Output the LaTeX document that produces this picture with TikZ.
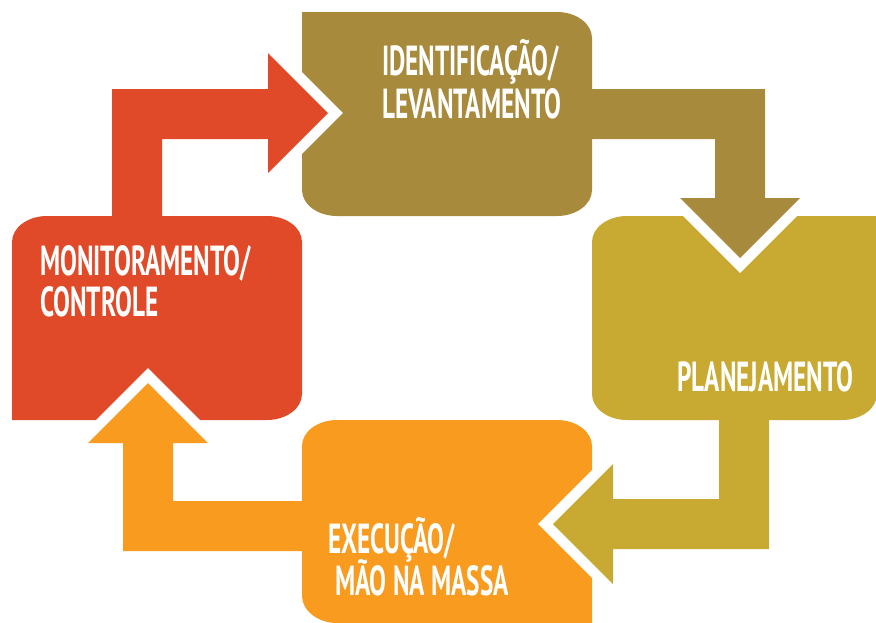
\documentclass[tikz,border=0pt]{standalone}
\usepackage{fontspec}
\newfontfamily\lbl{PT Sans}[FakeStretch=0.6]
\definecolor{identc}{HTML}{A88A3D}
\definecolor{monc}{HTML}{E04A28}
\definecolor{planc}{HTML}{C8AA32}
\definecolor{execc}{HTML}{F89B1F}
\tikzset{
  lbltext/.style={anchor=base west, inner sep=0pt, text=white, font=\lbl\bfseries\fontsize{42}{46}\selectfont},
  headrim/.style={draw=white, line width=21.2pt, line join=miter, miter limit=10},
}
\begin{document}
\begin{tikzpicture}[x=1pt,y=-1pt]
\useasboundingbox (0,0) rectangle (876,622);
% boxes
\fill[identc] (302,12) -- (557,12) .. controls (576.3,12) and (592,23.6) .. (592,38) -- (592,190) .. controls (592,204.4) and (576.3,216) .. (557,216) -- (337,216) .. controls (317.7,216) and (302,204.4) .. (302,190) -- cycle;
\fill[monc] (12,420) -- (12,242) .. controls (12,227.6) and (27.7,216) .. (47,216) -- (267,216) .. controls (286.3,216) and (302,227.6) .. (302,242) -- (302,394) .. controls (302,408.4) and (286.3,420) .. (267,420) -- cycle;
\fill[planc] (592,242) .. controls (592,227.6) and (607.7,216) .. (627,216) -- (877,216) -- (877,394) .. controls (877,408.4) and (861.3,420) .. (842,420) -- (627,420) .. controls (607.7,420) and (592,408.4) .. (592,394) -- cycle;
\fill[execc] (302,446) .. controls (302,431.6) and (317.7,420) .. (337,420) -- (557,420) .. controls (576.3,420) and (592,431.6) .. (592,446) -- (592,623) -- (337,623) .. controls (317.7,623) and (302,610.4) .. (302,596) -- cycle;
% arrow coordinates
\coordinate (rA) at (268,53); \coordinate (rT) at (328,113); \coordinate (rB) at (268,173);
\coordinate (bA) at (800,198); \coordinate (bT) at (740,258); \coordinate (bB) at (680,198);
\coordinate (oA) at (613,584); \coordinate (oT) at (553,524); \coordinate (oB) at (613,464);
\coordinate (gA) at (88,443); \coordinate (gT) at (148,383); \coordinate (gB) at (208,443);
% red arrow: monitoramento -> identificacao
\draw[headrim] (rA) -- (rT) -- (rB);
\fill[monc] (112,218) -- (112,89) -- (268,89) -- (rA) -- (rT) -- (rB) -- (268,139) -- (162,139) -- (162,218) -- cycle;
% brown arrow: identificacao -> planejamento
\draw[headrim] (bA) -- (bT) -- (bB);
\fill[identc] (590,89) -- (765,89) -- (765,198) -- (bA) -- (bT) -- (bB) -- (715,198) -- (715,139) -- (590,139) -- cycle;
% olive arrow: planejamento -> execucao
\draw[headrim] (oA) -- (oT) -- (oB);
\fill[planc] (719,418) -- (769,418) -- (769,549) -- (613,549) -- (oA) -- (oT) -- (oB) -- (613,499) -- (719,499) -- cycle;
% orange arrow: execucao -> monitoramento
\draw[headrim] (gA) -- (gT) -- (gB);
\fill[execc] (304,501) -- (304,551) -- (123,551) -- (123,443) -- (gA) -- (gT) -- (gB) -- (173,443) -- (173,501) -- cycle;
% labels
\node[lbltext] (ident1) at (382,75) {IDENTIFICAÇÃO/};
\node[lbltext] (ident2) at (382,118) {LEVANTAMENTO};
\node[lbltext] (mon1) at (40,275) {MONITORAMENTO/};
\node[lbltext] (mon2) at (40,316) {CONTROLE};
\node[lbltext] (plan) at (677,391) {PLANEJAMENTO};
\node[lbltext] (exec1) at (328,553) {EXECUÇÃO/};
\node[lbltext] (exec2) at (335,595) {MÃO NA MASSA};
\end{tikzpicture}
\end{document}
